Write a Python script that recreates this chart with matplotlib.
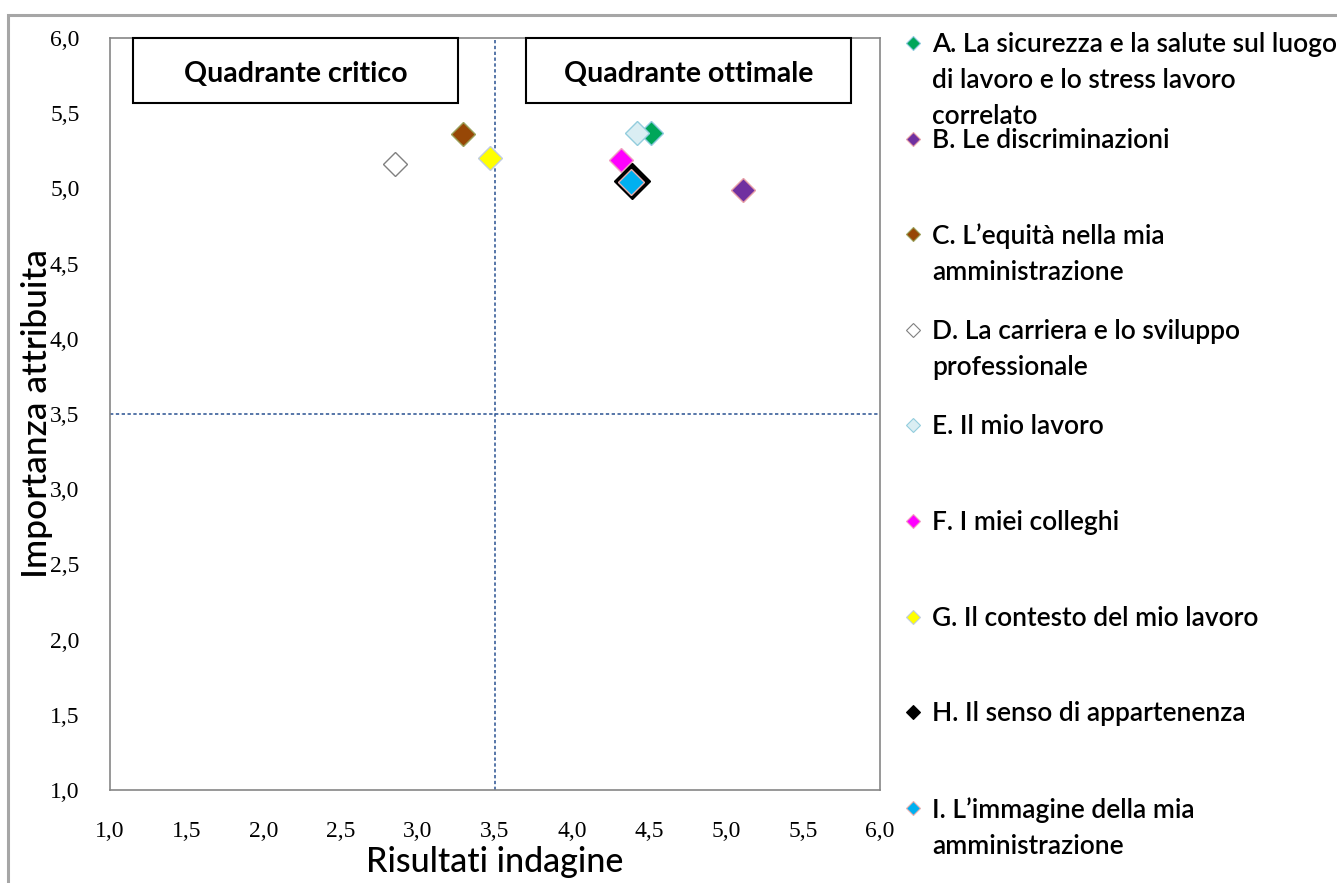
import matplotlib
matplotlib.use("Agg")
import matplotlib.pyplot as plt
from matplotlib.lines import Line2D
from matplotlib.patches import Rectangle
from matplotlib.ticker import FuncFormatter, MultipleLocator

# ---- data ----
labels = [
    "A. La sicurezza e la salute sul luogo\ndi lavoro e lo stress lavoro\ncorrelato",
    "B. Le discriminazioni",
    "C. L\u2019equit\u00e0 nella mia\namministrazione",
    "D. La carriera e lo sviluppo\nprofessionale",
    "E. Il mio lavoro",
    "F. I miei colleghi",
    "G. Il contesto del mio lavoro",
    "H. Il senso di appartenenza",
    "I. L\u2019immagine della mia\namministrazione",
]
risultati = [4.51, 5.11, 3.29, 2.85, 4.42, 4.32, 3.47, 4.39, 4.38]
importanza = [5.37, 4.99, 5.36, 5.16, 5.37, 5.19, 5.20, 5.05, 5.04]
face_colors = ["#00A65A", "#7030A0", "#974706", "#FFFFFF", "#DAEEF3",
               "#FF00FF", "#FFFF00", "#000000", "#00B0F0"]
edge_colors = ["#8FC9E0", "#E8A0A8", "#9AA05A", "#808080", "#93CDDD",
               "#F0A0C0", "#C0CCE0", "#000000", "#E8B0B0"]
quadrant_labels = ["Quadrante critico", "Quadrante ottimale"]
x_label = "Risultati indagine"
y_label = "Importanza attribuita"
soglia = 3.5

W, H = 1337, 883
fig = plt.figure(figsize=(W / 100, H / 100), dpi=100)
fig.patch.set_facecolor("white")

# outer chart border (grey)
fig.patches.append(Rectangle((8 / W, -0.05), 1.2, 1 - 15 / H + 0.05, transform=fig.transFigure,
                             fill=False, edgecolor="#A6A6A6", linewidth=2.2))

ax = fig.add_axes([110 / W, 1 - 790 / H, (880 - 110) / W, (790 - 38) / H])
ax.set_xlim(1, 6)
ax.set_ylim(1, 6)
for s in ax.spines.values():
    s.set_color("#868686")
    s.set_linewidth(1.2)
ax.xaxis.set_major_locator(MultipleLocator(0.5))
ax.yaxis.set_major_locator(MultipleLocator(0.5))
fmt = FuncFormatter(lambda v, p: f"{v:.1f}".replace(".", ","))
ax.xaxis.set_major_formatter(fmt)
ax.yaxis.set_major_formatter(fmt)
ax.tick_params(length=0, labelsize=17, pad=22)
for t in ax.get_xticklabels() + ax.get_yticklabels():
    t.set_fontfamily("Liberation Serif")

ax.set_xlabel(x_label, fontsize=24.5, fontfamily="Lato", fontweight="medium", labelpad=3)
ax.set_ylabel(y_label, fontsize=25.5, fontfamily="Lato", fontweight="medium", labelpad=-2)

ax.axvline(soglia, color="#3A5F9A", linestyle=(0, (2, 1.5)), linewidth=1.2, zorder=1)
ax.axhline(soglia, color="#3A5F9A", linestyle=(0, (2, 1.5)), linewidth=1.2, zorder=1)

# quadrant boxes
boxes = [(1.15, 3.26), (3.70, 5.81)]
for (x0, x1), txt in zip(boxes, quadrant_labels):
    ax.add_patch(Rectangle((x0, 5.57), x1 - x0, 0.43, fill=False, edgecolor="black",
                           linewidth=1.5, zorder=3, clip_on=False))
    ax.text((x0 + x1) / 2, 5.76, txt, ha="center", va="center", fontsize=20.5,
            fontweight="bold", fontfamily="Lato", zorder=4)

# points
sizes = [12.2, 12.2, 12.2, 12.2, 12.2, 12.2, 12.2, 18.5, 12.8]
for i in range(len(labels)):
    ax.plot(risultati[i], importanza[i], linestyle="none", marker="D", markersize=sizes[i],
            markerfacecolor=face_colors[i], markeredgecolor=edge_colors[i],
            markeredgewidth=1.0, zorder=5 + i)

# legend (manual)
top_y = 43
spacing = 95.6
for i, lab in enumerate(labels):
    yc = 1 - (top_y + i * spacing) / H
    fig.add_artist(Line2D([913 / W], [yc], transform=fig.transFigure, marker="D",
                          markersize=7, markerfacecolor=face_colors[i],
                          markeredgecolor=edge_colors[i], markeredgewidth=0.8, linestyle="none"))
    fig.text(932 / W, yc + 11 / H, lab, ha="left", va="top", fontsize=19,
             fontfamily="Lato", fontweight="semibold", linespacing=1.55)

fig.savefig("out.png", dpi=100, facecolor="white")
